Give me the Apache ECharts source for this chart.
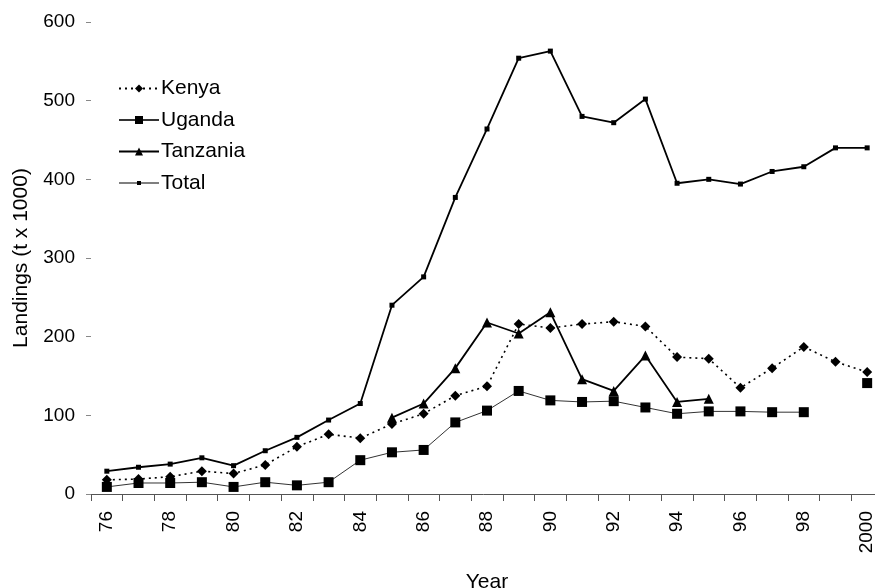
<!DOCTYPE html>
<html><head><meta charset="utf-8">
<script src="https://cdn.jsdelivr.net/npm/echarts@6/dist/echarts.min.js"></script>
<style>html,body{margin:0;padding:0;background:#fff}#c{width:875px;height:588px}</style>
</head><body><div id="c"></div>
<script>
var years = ['76','77','78','79','80','81','82','83','84','85','86','87','88','89','90','91','92','93','94','95','96','97','98','99','2000'];
var kenya = [18,19,22,29,26,37,60,76,71,89,102,125,137,216,211,216,219,213,174,172,135,160,187,168,155];
var uganda = [9,14,14,15,9,15,11,15,43,53,56,91,106,131,119,117,118,110,102,105,105,104,104,null,141];
var tanzania = [null,null,null,null,null,null,null,null,null,97,115,160,218,204,231,146,131,176,117,121,null,null,null,null,null];
var total = [29,34,38,46,36,55,72,94,115,240,276,377,464,554,563,480,472,502,395,400,394,410,416,440,440];
var yTicks = [0,100,200,300,400,500,600];

var font = 'Liberation Sans, Arial, sans-serif';
var chart = echarts.init(document.getElementById('c'));
chart.setOption({
  animation: false,
  backgroundColor: '#fff',
  textStyle: {fontFamily: font, color: '#000'},
  grid: {left: 91, top: 22, width: 792, height: 472, outerBoundsMode: 'none', containLabel: false},
  legend: {
    orient: 'vertical', left: 113, top: 73, itemWidth: 40, itemHeight: 10, itemGap: 10.5,
    textStyle: {fontSize: 21, color: '#000', fontFamily: font, padding: [0,0,0,-3]},
    data: ['Kenya','Uganda','Tanzania',
      {name: 'Total', icon: 'path://M0,4.4H40V5.6H0Z M18,3H22V7H18Z'}]
  },
  xAxis: {
    type: 'category', data: years, boundaryGap: true,
    name: 'Year', nameLocation: 'middle', nameGap: 78,
    nameTextStyle: {fontSize: 21, color: '#000', fontFamily: font},
    axisLine: {lineStyle: {color: '#555', width: 1}},
    axisTick: {show: true, interval: 0, length: 7, lineStyle: {color: '#555'}},
    axisLabel: {interval: 1, rotate: 90, margin: 17, fontSize: 19, color: '#000', fontFamily: font}
  },
  yAxis: {
    type: 'value', min: yTicks[0], max: yTicks[yTicks.length-1], interval: 100,
    name: 'Landings (t x 1000)', nameLocation: 'middle', nameGap: 59,
    nameTextStyle: {fontSize: 21, color: '#000', fontFamily: font},
    axisLine: {show: false},
    axisTick: {show: true, length: 5, lineStyle: {color: '#888'}},
    splitLine: {show: false},
    axisLabel: {margin: 16, fontSize: 19, color: '#000', fontFamily: font}
  },
  series: [
    {name: 'Kenya', type: 'line', data: kenya, symbol: 'diamond', symbolSize: 10,
     lineStyle: {color: '#000', width: 1.6, type: [2,4]}, itemStyle: {color: '#000'}},
    {name: 'Uganda', type: 'line', data: uganda, symbol: 'rect', symbolSize: 10,
     lineStyle: {color: '#333', width: 1}, itemStyle: {color: '#000'}},
    {name: 'Tanzania', type: 'line', data: tanzania, symbol: 'triangle', symbolSize: 10,
     lineStyle: {color: '#000', width: 1.8}, itemStyle: {color: '#000'}},
    {name: 'Total', type: 'line', data: total, symbol: 'rect', symbolSize: 5,
     lineStyle: {color: '#000', width: 1.8}, itemStyle: {color: '#000'}}
  ]
});
</script></body></html>
